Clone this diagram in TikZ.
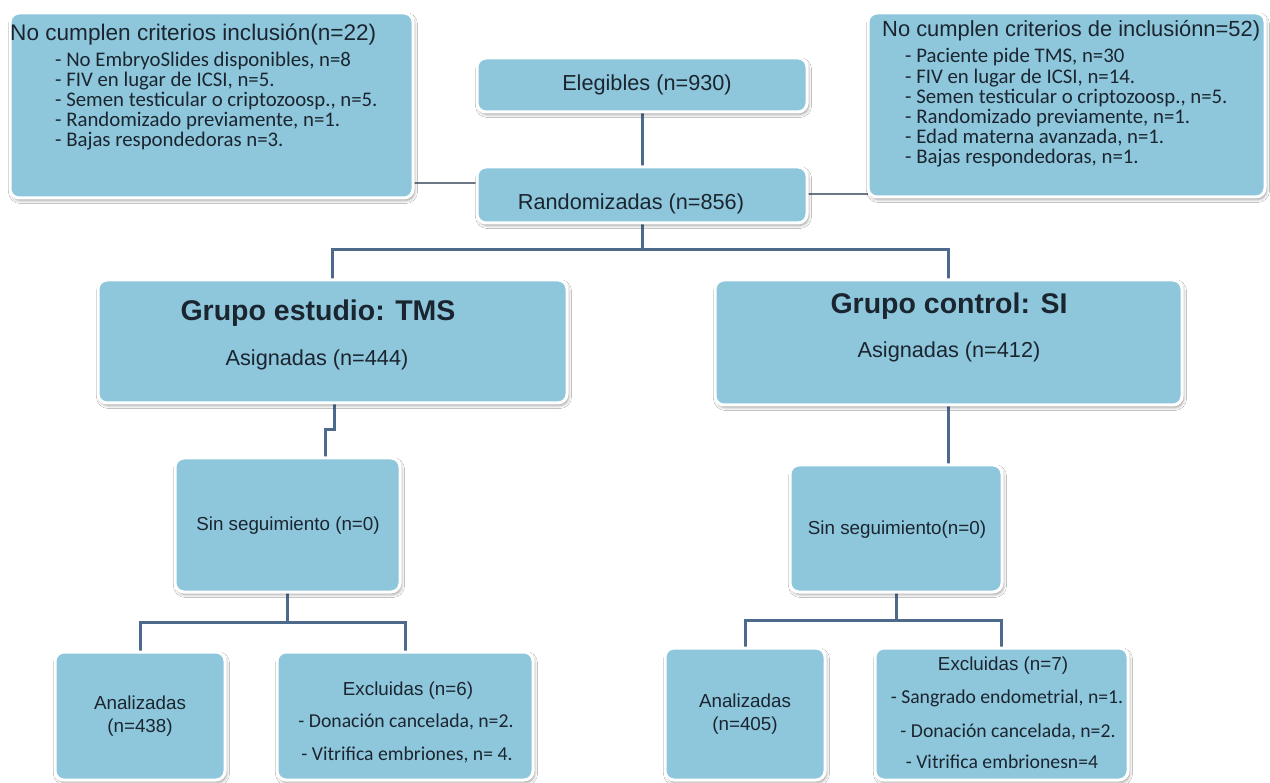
\documentclass[tikz,border=0pt]{standalone}
\usepackage{fontspec}
\setmainfont{Liberation Sans}
\newfontfamily\calib{Carlito}
\usetikzlibrary{shadows.blur,backgrounds}

\definecolor{boxfill}{HTML}{8EC7DB}
\definecolor{tree}{HTML}{4D6A8C}
\definecolor{sideline}{HTML}{6B7785}
\definecolor{ink}{HTML}{1B2530}

\tikzset{
  flowbox/.style={draw=white, line width=3pt, fill=boxfill, rounded corners=9pt,
    inner sep=0pt, outer sep=0pt,
    blur shadow={shadow xshift=1.5pt, shadow yshift=-2.5pt,
      shadow blur radius=3pt, shadow opacity=40}},
  treeline/.style={draw=tree, line width=3pt},
  sidelink/.style={draw=sideline, line width=1.4pt},
  big/.style={text=ink, inner sep=0pt, anchor=base, font=\fontsize{21.7}{24}\selectfont},
  toph/.style={text=ink, inner sep=0pt, anchor=base west, font=\fontsize{22.6}{24}\selectfont},
  small/.style={text=ink, inner sep=0pt, anchor=base, font=\fontsize{18.8}{21}\selectfont},
  heading/.style={text=ink, inner sep=0pt, anchor=base, font=\bfseries\fontsize{28.5}{30}\selectfont},
  listtop/.style={text=ink, inner sep=0pt, anchor=base west, font=\calib\fontsize{20.8}{22}\selectfont},
  listlow/.style={text=ink, inner sep=0pt, anchor=base, font=\calib\fontsize{19.7}{22}\selectfont},
}

\begin{document}
\begin{tikzpicture}[x=1pt, y=-1pt]
\useasboundingbox (0,0) rectangle (1270,783);

% ---------- boxes ----------
\node[flowbox, minimum width=403, minimum height=185] (exL)  at (211.5,105.5) {};
\node[flowbox, minimum width=397, minimum height=184] (exR)  at (1066.5,105) {};
\node[flowbox, minimum width=330, minimum height=54]  (eleg) at (642,85) {};
\node[flowbox, minimum width=330, minimum height=56]  (rand) at (642,195) {};
\node[flowbox, minimum width=469, minimum height=123] (tms)  at (332.5,341.5) {};
\node[flowbox, minimum width=467, minimum height=125] (ctl)  at (948.5,342.5) {};
\node[flowbox, minimum width=225, minimum height=134] (sinL) at (287.5,525) {};
\node[flowbox, minimum width=212, minimum height=127] (sinR) at (896,528.5) {};
\node[flowbox, minimum width=170, minimum height=128] (anaL) at (140,716) {};
\node[flowbox, minimum width=256, minimum height=128] (excL) at (405,716) {};
\node[flowbox, minimum width=160, minimum height=132] (anaR) at (745,714) {};
\node[flowbox, minimum width=253, minimum height=132] (excR) at (1001.5,714) {};

% ---------- texts ----------
% exclusions before randomisation, left
\node[toph] (exLh) at (10,41) {No cumplen criterios inclusión(n=22)};
\node[listtop] (exL1) at (55,67)  {- No EmbryoSlides disponibles, n=8};
\node[listtop] (exL2) at (55,87)  {- FIV en lugar de ICSI, n=5.};
\node[listtop] (exL3) at (55,107) {- Semen testicular o criptozoosp., n=5.};
\node[listtop] (exL4) at (55,127) {- Randomizado previamente, n=1.};
\node[listtop] (exL5) at (55,147) {- Bajas respondedoras n=3.};

% exclusions before randomisation, right
\node[toph, font=\fontsize{21.9}{24}\selectfont] (exRh) at (882,37) {No cumplen criterios de inclusiónn=52)};
\node[listtop] (exR1) at (905,63)    {- Paciente pide TMS, n=30};
\node[listtop] (exR2) at (905,83.2)  {- FIV en lugar de ICSI, n=14.};
\node[listtop] (exR3) at (905,103.4) {- Semen testicular o criptozoosp., n=5.};
\node[listtop] (exR4) at (905,123.6) {- Randomizado previamente, n=1.};
\node[listtop] (exR5) at (905,143.8) {- Edad materna avanzada, n=1.};
\node[listtop] (exR6) at (905,164)   {- Bajas respondedoras, n=1.};

\node[big] (elegT) at (647,91)  {Elegibles (n=930)};
\node[big] (randT) at (631,210) {Randomizadas (n=856)};

\node[heading] (tmsH) at (318,321) {Grupo estudio: TMS};
\node[big]     (tmsA) at (317,366) {Asignadas (n=444)};
\node[heading] (ctlH) at (949,314) {Grupo control: SI};
\node[big]     (ctlA) at (949,358) {Asignadas (n=412)};

\node[small] (sinLT) at (288,531) {Sin seguimiento (n=0)};
\node[small] (sinRT) at (897,535) {Sin seguimiento(n=0)};

\node[small] (anaL1) at (140,709) {Analizadas};
\node[small] (anaL2) at (140,732) {(n=438)};
\node[small] (anaR1) at (745,707) {Analizadas};
\node[small] (anaR2) at (745,730) {(n=405)};

\node[small]   (excLh) at (408,695) {Excluidas (n=6)};
\node[listlow] (excL1) at (406,727) {- Donación cancelada, n=2.};
\node[listlow] (excL2) at (407,760) {- Vitrifica embriones, n= 4.};

\node[small]   (excRh) at (1003,670) {Excluidas (n=7)};
\node[listlow] (excR1) at (1007,703) {- Sangrado endometrial, n=1.};
\node[listlow] (excR2) at (1008,737) {- Donación cancelada, n=2.};
\node[listlow] (excR3) at (1002,768) {- Vitrifica embrionesn=4};

% ---------- connectors (behind the boxes) ----------
\coordinate (yL) at (0,183);
\coordinate (yR) at (0,194);
\coordinate (split1) at (0,250);
\coordinate (jogA) at (334,430);
\coordinate (jogB) at (325,430);
\coordinate (split2) at (0,622);
\coordinate (split3) at (0,620);

\begin{pgfonlayer}{background}
  \fill[white] (0,0) rectangle (1270,783);
  \draw[treeline] (eleg.south) -- (rand.north);
  \draw[sidelink] (exL.east |- yL) -- (rand.west |- yL);
  \draw[sidelink] (rand.east |- yR) -- (exR.west |- yR);
  \draw[treeline] (rand.south) -- (rand.south |- split1);
  \draw[treeline] (tms.north) -- (tms.north |- split1) -- (ctl.north |- split1) -- (ctl.north);
  \draw[treeline] (tms.south -| jogA) -- (jogA) -- (jogB) -- (sinL.north -| jogB);
  \draw[treeline] (ctl.south) -- (ctl.south |- sinR.north);
  \draw[treeline] (sinL.south) -- (sinL.south |- split2);
  \draw[treeline] (anaL.north) -- (anaL.north |- split2) -- (excL.north |- split2) -- (excL.north);
  \draw[treeline] (sinR.south) -- (sinR.south |- split3);
  \draw[treeline] (anaR.north) -- (anaR.north |- split3) -- (excR.north |- split3) -- (excR.north);
\end{pgfonlayer}
\end{tikzpicture}
\end{document}
